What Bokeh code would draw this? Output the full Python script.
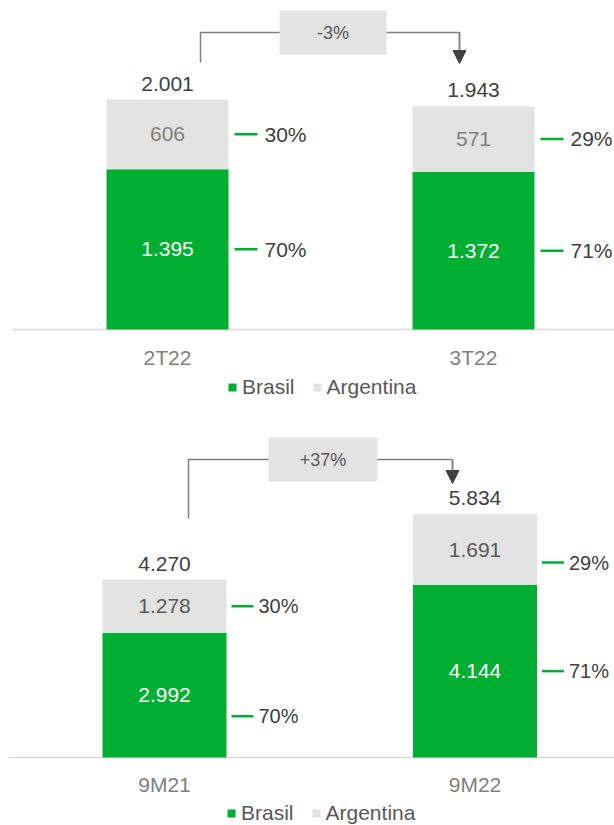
from bokeh.plotting import figure
from bokeh.models import Range1d, ColumnDataSource, Arrow, NormalHead
from bokeh.layouts import column
from bokeh.core.properties import value
from bokeh.embed import file_html
from bokeh.resources import INLINE

# ---------------- data ----------------
series_names = ["Brasil", "Argentina"]

q_cats = ["2T22", "3T22"]
q_brasil = [1395, 1372]
q_argentina = [606, 571]
q_totals = [2001, 1943]
q_pct_brasil = [70, 71]
q_pct_argentina = [30, 29]
q_change = "-3%"

m_cats = ["9M21", "9M22"]
m_brasil = [2992, 4144]
m_argentina = [1278, 1691]
m_totals = [4270, 5834]
m_pct_brasil = [70, 71]
m_pct_argentina = [30, 29]
m_change = "+37%"

# ---------------- style ----------------
GREEN = "#00AF32"
LIGHT = "#E3E3E3"
DARK = "#404040"
MID = "#595959"
GREYTXT = "#808080"
FONT = "Liberation Sans"
PAGE = 0
W = 614


def fmt(v):
    return f"{v:,}".replace(",", ".")


def chart(cats, brasil, argentina, totals, pct_b, pct_a, change, L):
    h = L["height"]
    base_fig = L["base"] - L["top"]
    s = L["scale"]
    c0 = L["c0"] - PAGE
    span = L["c1"] - L["c0"]
    p = figure(width=W, height=h,
               x_range=Range1d(-c0 / span, (W - c0) / span),
               y_range=Range1d(-(h - base_fig) / s, base_fig / s),
               x_axis_type=None, y_axis_type=None,
               output_backend="svg", toolbar_location=None,
               min_border=0, outline_line_color=None)
    p.grid.visible = False

    def X(page_x):
        return (page_x - PAGE - c0) / span

    def Y(page_y):
        return (L["base"] - page_y) / s

    px = 1.0 / span
    xs = list(range(len(cats)))
    bw = L["bw"] * px

    # baseline
    p.segment(x0=[X(L["base_x0"])], y0=[0], x1=[X(PAGE + W)], y1=[0],
              line_color="#D9D9D9", line_width=1.5)

    src = ColumnDataSource(dict(x=xs, brasil=brasil, argentina=argentina))
    p.vbar_stack(["brasil", "argentina"], x="x", width=bw, source=src,
                 fill_color=[GREEN, LIGHT], line_color=None,
                 legend_label=series_names)

    font = value(FONT)
    fs = value("21px")

    # segment values
    yb = [b / 2 for b in brasil]
    ya = [b + a / 2 for b, a in zip(brasil, argentina)]
    p.text(x=xs, y=yb, text=[fmt(v) for v in brasil], text_align="center",
           text_baseline="middle", text_color="white", text_font=font,
           text_font_size=fs)
    p.text(x=xs, y=ya, text=[fmt(v) for v in argentina], text_align="center",
           text_baseline="middle", text_color=L["arg_text"], text_font=font,
           text_font_size=fs)
    # totals
    tops = [b + a for b, a in zip(brasil, argentina)]
    p.text(x=xs, y=tops, text=[fmt(v) for v in totals], text_align="center",
           text_baseline="middle", y_offset=-16, text_color=DARK,
           text_font=font, text_font_size=fs)

    # percentage labels with green dash
    d0, d1, t0 = L["pct_gap"]
    xr = [x + bw / 2 for x in xs]
    pb_y = [y - d / s for y, d in zip(yb, L["pct_dy_b"])]
    pa_y = [y - d / s for y, d in zip(ya, L["pct_dy_a"])]
    ys = pb_y + pa_y
    xrr = xr + xr
    p.segment(x0=[x + d0 * px for x in xrr], y0=ys, x1=[x + d1 * px for x in xrr],
              y1=ys, line_color=GREEN, line_width=2.5)
    p.text(x=[x + t0 * px for x in xrr], y=ys,
           text=[f"{v}%" for v in pct_b] + [f"{v}%" for v in pct_a],
           text_align="left", text_baseline="middle", text_color=DARK,
           text_font=font, text_font_size=value(L["pct_fs"]))

    # category labels
    p.text(x=xs, y=[0] * len(xs), text=cats, text_align="center",
           text_baseline="middle", y_offset=L["cat_dy"], text_color=GREYTXT,
           text_font=font, text_font_size=fs)

    # change bracket
    B = L["bracket"]
    p.line(x=[X(B["lx"]), X(B["lx"]), X(B["rx"]), X(B["rx"])],
           y=[Y(B["ly0"]), Y(B["ly"]), Y(B["ly"]), Y(B["tip"] - 10)],
           line_color="#7F7F7F", line_width=1.5)
    p.add_layout(Arrow(end=NormalHead(size=13, fill_color=DARK, line_color=DARK),
                       x_start=X(B["rx"]), y_start=Y(B["ly"]),
                       x_end=X(B["rx"]), y_end=Y(B["tip"]),
                       line_color="#7F7F7F", line_width=1.5))
    bl, br, bt, bb = B["box"]
    p.quad(left=[X(bl)], right=[X(br)], top=[Y(bt)], bottom=[Y(bb)],
           fill_color=LIGHT, line_color=None)
    p.text(x=[(X(bl) + X(br)) / 2], y=[(Y(bt) + Y(bb)) / 2], text=[change],
           text_align="center", text_baseline="middle", text_color=MID,
           text_font=font, text_font_size=value("18px"))

    # legend
    lg = p.legend[0]
    lg.orientation = "horizontal"
    lg.location = (L["leg_x"] - PAGE, L["leg_y"])
    lg.glyph_width = 10
    lg.glyph_height = 10
    lg.label_standoff = 5
    lg.spacing = 17
    lg.padding = 0
    lg.margin = 0
    lg.border_line_color = None
    lg.background_fill_alpha = 0
    lg.label_text_font = FONT
    lg.label_text_font_size = "21px"
    lg.label_text_color = MID
    return p


L1 = dict(top=0, height=402, base=329, scale=230 / 2001, c0=167, c1=473, bw=122,
          base_x0=12, cat_dy=28, arg_text="#7F7F7F",
          pct_dy_b=[0, 0], pct_dy_a=[0, 0], pct_gap=(6, 29, 36), pct_fs="21px",
          bracket=dict(lx=200, ly0=62, ly=32, rx=459, tip=63, box=(279, 386, 10, 54)),
          leg_x=227, leg_y=3)
L2 = dict(top=402, height=423, base=757, scale=178 / 4270, c0=164, c1=474.5, bw=124,
          base_x0=8, cat_dy=27, arg_text=MID,
          pct_dy_b=[21, 0], pct_dy_a=[0, 13], pct_gap=(5, 27, 32), pct_fs="20px",
          bracket=dict(lx=188, ly0=518, ly=459, rx=452, tip=483, box=(268, 377, 437, 481)),
          leg_x=226, leg_y=0)

p1 = chart(q_cats, q_brasil, q_argentina, q_totals, q_pct_brasil, q_pct_argentina,
           q_change, L1)
p2 = chart(m_cats, m_brasil, m_argentina, m_totals, m_pct_brasil, m_pct_argentina,
           m_change, L2)

layout = column(p1, p2, spacing=0)
open("out.html", "w").write(file_html(layout, INLINE))
